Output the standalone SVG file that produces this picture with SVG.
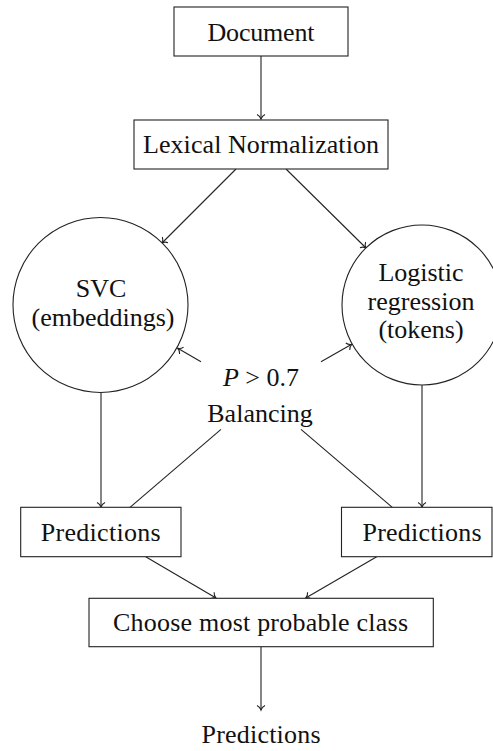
<svg xmlns="http://www.w3.org/2000/svg" width="493" height="751" viewBox="0 0 493 751">
<style>
.box{fill:#fff;stroke:#222;stroke-width:1.1}
.t{font-family:"Liberation Serif","Times New Roman",Times,"Noto Serif","DejaVu Serif","Nimbus Roman","Nimbus Roman No9 L",FreeSerif,Tinos,serif;font-size:26px;fill:#111;text-anchor:middle}
.c{fill:none;stroke:#222;stroke-width:1.1}
</style>
<defs>
<marker id="ah" markerUnits="userSpaceOnUse" markerWidth="12" markerHeight="12" viewBox="-6 -6 12 12" refX="0" refY="0" orient="auto">
<path d="M-4.5,-4 C-3.5,-1.8 -1.2,-0.4 0,0 C-1.2,0.4 -3.5,1.8 -4.5,4" fill="none" stroke="#222" stroke-width="1.1"/>
</marker>
</defs>
<rect width="493" height="751" fill="#fff"/>
<g id="connectors">
<line class="c" x1="261" y1="56" x2="261" y2="119" marker-end="url(#ah)"/>
<line class="c" x1="236" y1="169" x2="162" y2="243" marker-end="url(#ah)"/>
<line class="c" x1="286" y1="169" x2="366" y2="248" marker-end="url(#ah)"/>
<line class="c" x1="201" y1="361.7" x2="177.7" y2="348.3" marker-end="url(#ah)"/>
<line class="c" x1="321" y1="361.7" x2="351.7" y2="344.3" marker-end="url(#ah)"/>
<line class="c" x1="101" y1="392.5" x2="101" y2="507" marker-end="url(#ah)"/>
<line class="c" x1="422" y1="385" x2="422" y2="507" marker-end="url(#ah)"/>
<line class="c" x1="221" y1="429.3" x2="130" y2="507.3"/>
<line class="c" x1="301" y1="429.3" x2="392.3" y2="507.3"/>
<line class="c" x1="145.7" y1="556.7" x2="216" y2="598" marker-end="url(#ah)"/>
<line class="c" x1="376.7" y1="556.7" x2="305.7" y2="598" marker-end="url(#ah)"/>
<line class="c" x1="261" y1="647" x2="261" y2="710" marker-end="url(#ah)"/>
</g>
<g id="document">
<rect class="box" x="174" y="7" width="174" height="49"/>
<text class="t" x="261" y="40.5" textLength="107">Document</text>
</g>
<g id="lexical">
<rect class="box" x="134" y="120" width="254" height="49"/>
<text class="t" x="261" y="153" textLength="236">Lexical Normalization</text>
</g>
<g id="svc">
<circle class="box" cx="100.5" cy="305" r="87.5"/>
<text class="t" x="101" y="297">SVC</text>
<text class="t" x="103" y="325.5">(embeddings)</text>
</g>
<g id="logistic">
<circle class="box" cx="422" cy="305" r="80"/>
<text class="t" x="421" y="281">Logistic</text>
<text class="t" x="421" y="310">regression</text>
<text class="t" x="421" y="338">(tokens)</text>
</g>
<g id="balancing">
<text class="t" x="261" y="386"><tspan font-style="italic">P</tspan> &gt; 0.7</text>
<text class="t" x="260" y="421.5">Balancing</text>
</g>
<g id="pred-left">
<rect class="box" x="20.7" y="507.3" width="160.3" height="49.4"/>
<text class="t" x="100.7" y="541" textLength="120">Predictions</text>
</g>
<g id="pred-right">
<rect class="box" x="341.5" y="507.3" width="150.5" height="49.4"/>
<text class="t" x="422" y="541" textLength="119">Predictions</text>
</g>
<g id="choose">
<rect class="box" x="89" y="598.3" width="344.3" height="48.4"/>
<text class="t" x="260.5" y="631" textLength="295">Choose most probable class</text>
</g>
<g id="output">
<text class="t" x="261" y="743.3" textLength="119">Predictions</text>
</g>
</svg>
